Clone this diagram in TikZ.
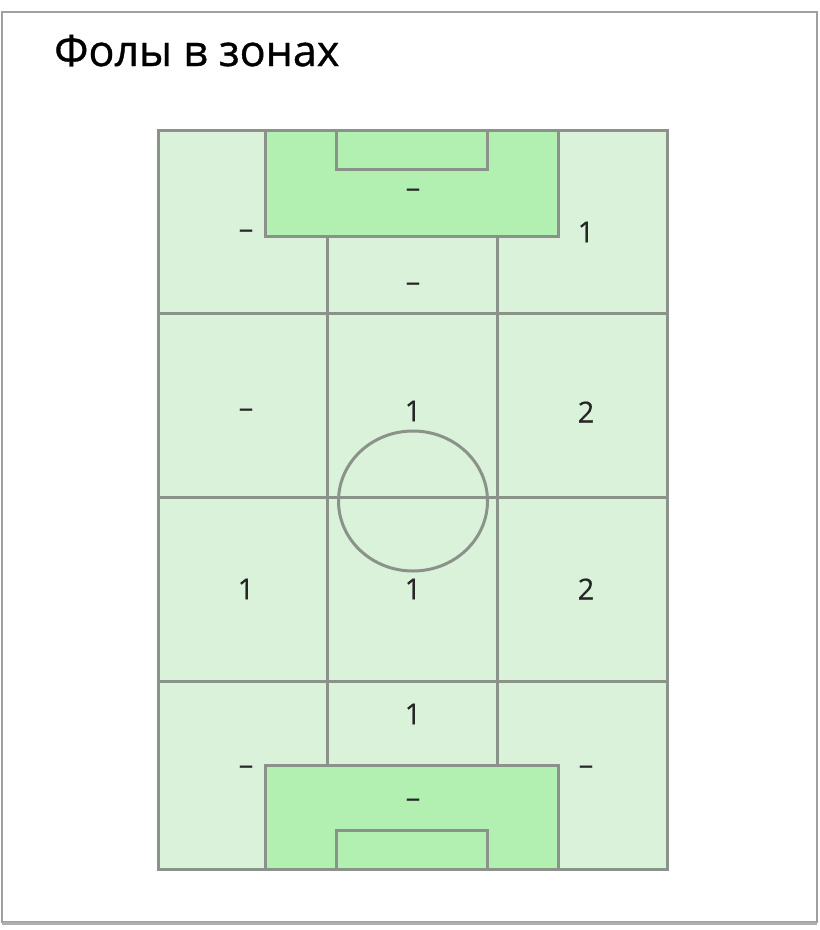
\documentclass[tikz,border=0pt]{standalone}
\usepackage{fontspec}
\setmainfont{Open Sans}
\newfontfamily\titlefont[FakeBold=0.8]{Open Sans}
\newfontfamily\lblfont[FakeBold=0.5]{Open Sans}
\begin{document}
\begin{tikzpicture}[x=1pt,y=-1pt,
  fieldline/.style={draw=linegray,line width=3pt},
  lbl/.style={font=\lblfont\fontsize{29}{32}\selectfont,text=black!85,inner sep=0pt},
]
\definecolor{linegray}{HTML}{8A928A}
\definecolor{lightfield}{HTML}{DAF2DA}
\definecolor{boxgreen}{HTML}{B2F0B2}
\definecolor{framegray}{HTML}{A0A0A0}
\useasboundingbox (0,0) rectangle (820,930);
\fill[white] (0,0) rectangle (820,930);
% outer frame
\draw[framegray,line width=2pt] (1.5,11.5) rectangle (817,922);
\draw[framegray!85,line width=3pt] (1.5,923.5) -- (817,923.5);
% title
\node[anchor=base west,inner sep=0pt,font=\titlefont\fontsize{43}{48}\selectfont] (title) at (54,66) {Фолы в зонах};
% field
\path[fill=lightfield] (158,130) rectangle (667,869);
% grid lines
\draw[fieldline] (158,313) -- (667,313);
\draw[fieldline] (158,497) -- (667,497);
\draw[fieldline] (158,681) -- (667,681);
\draw[fieldline] (327,236) -- (327,765);
\draw[fieldline] (497,236) -- (497,765);
% penalty boxes
\draw[fieldline,fill=boxgreen] (265,130) rectangle (558,236);
\draw[fieldline,fill=boxgreen] (336,130) rectangle (487,169);
\draw[fieldline,fill=boxgreen] (265,765) rectangle (558,869);
\draw[fieldline,fill=boxgreen] (336,830) rectangle (487,869);
% centre circle
\draw[fieldline] (413,501) ellipse [x radius=74.5, y radius=70];
% field border
\draw[fieldline] (158,130) rectangle (667,869);
% labels
\node[lbl] (pt) at (413,193) {–};
\node[lbl] (tl) at (246,234) {–};
\node[lbl] (tr) at (586,232) {1};
\node[lbl] (tc) at (413,287) {–};
\node[lbl] (r2l) at (246,413) {–};
\node[lbl] (r2c) at (413,411) {1};
\node[lbl] (r2r) at (586,412) {2};
\node[lbl] (r3l) at (246,589) {1};
\node[lbl] (r3c) at (413,589) {1};
\node[lbl] (r3r) at (586,589) {2};
\node[lbl] (bc) at (413,714) {1};
\node[lbl] (bl) at (246,770) {–};
\node[lbl] (br) at (586,770) {–};
\node[lbl] (pb) at (413,803) {–};
\end{tikzpicture}
\end{document}
